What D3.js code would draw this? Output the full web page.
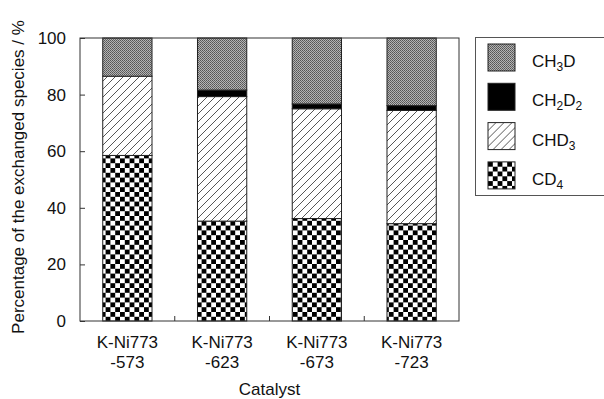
<!DOCTYPE html>
<html>
<head>
<meta charset="utf-8">
<script src="https://cdn.jsdelivr.net/npm/d3@7"></script>
<style>
  body { margin: 0; background: #fff; }
  text { font-family: "Liberation Sans", Arial, sans-serif; fill: #111; }
</style>
</head>
<body>
<script>
var catalysts = ["K-Ni773-573", "K-Ni773-623", "K-Ni773-673", "K-Ni773-723"];
var cd4   = [58.5, 35.3, 36.2, 34.4];
var chd3  = [28.0, 44.0, 38.8, 40.0];
var ch2d2 = [0.0, 2.3, 1.7, 1.7];
var ch3d  = [13.5, 18.4, 23.3, 23.9];
var yTicks = [0, 20, 40, 60, 80, 100];
var species = ["CD4", "CHD3", "CH2D2", "CH3D"];

var rows = catalysts.map(function(c, i) {
    return { cat: c, CD4: cd4[i], CHD3: chd3[i], CH2D2: ch2d2[i], CH3D: ch3d[i] };
});

var svg = d3.select("body").append("svg")
    .attr("width", 604)
    .attr("height", 399);

var defs = svg.append("defs");

// gray stipple
var pg = defs.append("pattern").attr("id", "p-ch3d")
    .attr("patternUnits", "userSpaceOnUse").attr("width", 2).attr("height", 2);
pg.append("rect").attr("width", 2).attr("height", 2).style("fill", "#b4b4b4");
pg.append("rect").attr("width", 1).attr("height", 1).style("fill", "#555");
pg.append("rect").attr("x", 1).attr("y", 1).attr("width", 1).attr("height", 1).style("fill", "#666");

// diagonal hatch
var ph = defs.append("pattern").attr("id", "p-chd3")
    .attr("patternUnits", "userSpaceOnUse").attr("width", 8).attr("height", 8);
ph.append("rect").attr("width", 8).attr("height", 8).style("fill", "#fff");
ph.append("path").attr("d", "M0,8 L8,0 M-2,2 L2,-2 M6,10 L10,6")
    .style("stroke", "#444").style("stroke-width", 0.9);

// checkerboard
var pc = defs.append("pattern").attr("id", "p-cd4")
    .attr("patternUnits", "userSpaceOnUse").attr("width", 9.6).attr("height", 9.6);
pc.append("rect").attr("width", 9.6).attr("height", 9.6).style("fill", "#fff");
pc.append("rect").attr("width", 4.8).attr("height", 4.8).style("fill", "#000");
pc.append("rect").attr("x", 4.8).attr("y", 4.8).attr("width", 4.8).attr("height", 4.8).style("fill", "#000");

var fills = { CD4: "url(#p-cd4)", CHD3: "url(#p-chd3)", CH2D2: "#000", CH3D: "url(#p-ch3d)" };

var plotL = 80, plotR = 459, plotT = 38, plotB = 321;

var x = d3.scaleBand().domain(catalysts).range([plotL, plotR]).paddingInner(0.48).paddingOuter(0.24);
var y = d3.scaleLinear().domain([0, 100]).range([plotB, plotT]);

var stack = d3.stack().keys(species)(rows);

svg.append("g").selectAll("g")
    .data(stack)
    .enter().append("g")
    .style("fill", function(d) { return fills[d.key]; })
    .selectAll("rect")
    .data(function(d) { return d.filter(function(p) { return p[1] - p[0] > 0; }); })
    .enter().append("rect")
    .attr("x", function(d) { return x(d.data.cat); })
    .attr("y", function(d) { return y(d[1]); })
    .attr("width", x.bandwidth())
    .attr("height", function(d) { return y(d[0]) - y(d[1]); })
    .style("stroke", "#222")
    .style("stroke-width", 1);

// frame
svg.append("rect")
    .attr("x", plotL).attr("y", plotT)
    .attr("width", plotR - plotL).attr("height", plotB - plotT)
    .style("fill", "none").style("stroke", "#333").style("stroke-width", 1);

// y axis with inward ticks
var yAxis = svg.append("g")
    .attr("transform", "translate(" + plotL + ",0)")
    .call(d3.axisLeft(y).tickValues(yTicks).tickSizeInner(-5).tickSizeOuter(0).tickPadding(14));
yAxis.select(".domain").remove();
yAxis.selectAll("line").style("stroke", "#333");
yAxis.selectAll("text").style("font-size", "17px").style("fill", "#111");

// x ticks between categories
var step = x.step();
svg.append("g").selectAll("line")
    .data(catalysts.slice(1))
    .enter().append("line")
    .attr("x1", function(d) { return x(d) - step * 0.24; })
    .attr("x2", function(d) { return x(d) - step * 0.24; })
    .attr("y1", plotB).attr("y2", plotB - 5)
    .style("stroke", "#333");

// category labels on two lines
var lab = svg.append("g").selectAll("text")
    .data(catalysts)
    .enter().append("text")
    .attr("text-anchor", "middle")
    .style("font-size", "17px");
lab.append("tspan")
    .attr("x", function(d) { return x(d) + x.bandwidth() / 2; })
    .attr("y", 348)
    .text(function(d) { return d.split("-").slice(0, 2).join("-"); });
lab.append("tspan")
    .attr("x", function(d) { return x(d) + x.bandwidth() / 2; })
    .attr("y", 368)
    .text(function(d) { return "-" + d.split("-")[2]; });

svg.append("text")
    .attr("x", (plotL + plotR) / 2).attr("y", 395)
    .attr("text-anchor", "middle")
    .style("font-size", "17px")
    .text("Catalyst");

svg.append("text")
    .attr("transform", "translate(24,177) rotate(-90)")
    .attr("text-anchor", "middle")
    .style("font-size", "17px")
    .text("Percentage of the exchanged species / %");

// legend
var legendItems = [
    { key: "CH3D", parts: [["CH", 0], ["3", 1], ["D", 0]] },
    { key: "CH2D2", parts: [["CH", 0], ["2", 1], ["D", 0], ["2", 1]] },
    { key: "CHD3", parts: [["CHD", 0], ["3", 1]] },
    { key: "CD4", parts: [["CD", 0], ["4", 1]] }
];

svg.append("rect")
    .attr("x", 475.5).attr("y", 37.5)
    .attr("width", 140).attr("height", 158)
    .style("fill", "#fff").style("stroke", "#555").style("stroke-width", 1);

var lg = svg.append("g").selectAll("g")
    .data(legendItems)
    .enter().append("g")
    .attr("transform", function(d, i) { return "translate(488," + (44 + i * 39.3) + ")"; });

lg.append("rect")
    .attr("width", 27).attr("height", 27)
    .style("fill", function(d) { return fills[d.key]; })
    .style("stroke", "#222");

var lt = lg.append("text")
    .attr("x", 44).attr("y", 23)
    .style("font-size", "17px");
lt.selectAll("tspan")
    .data(function(d) { return d.parts; })
    .enter().append("tspan")
    .attr("dy", function(p, i, nodes) {
        var prev = i > 0 ? d3.select(nodes[i - 1]).datum()[1] : 0;
        return (p[1] - prev) * 4 + "px";
    })
    .style("font-size", function(p) { return p[1] ? "12px" : "17px"; })
    .text(function(p) { return p[0]; });
</script>
</body>
</html>
